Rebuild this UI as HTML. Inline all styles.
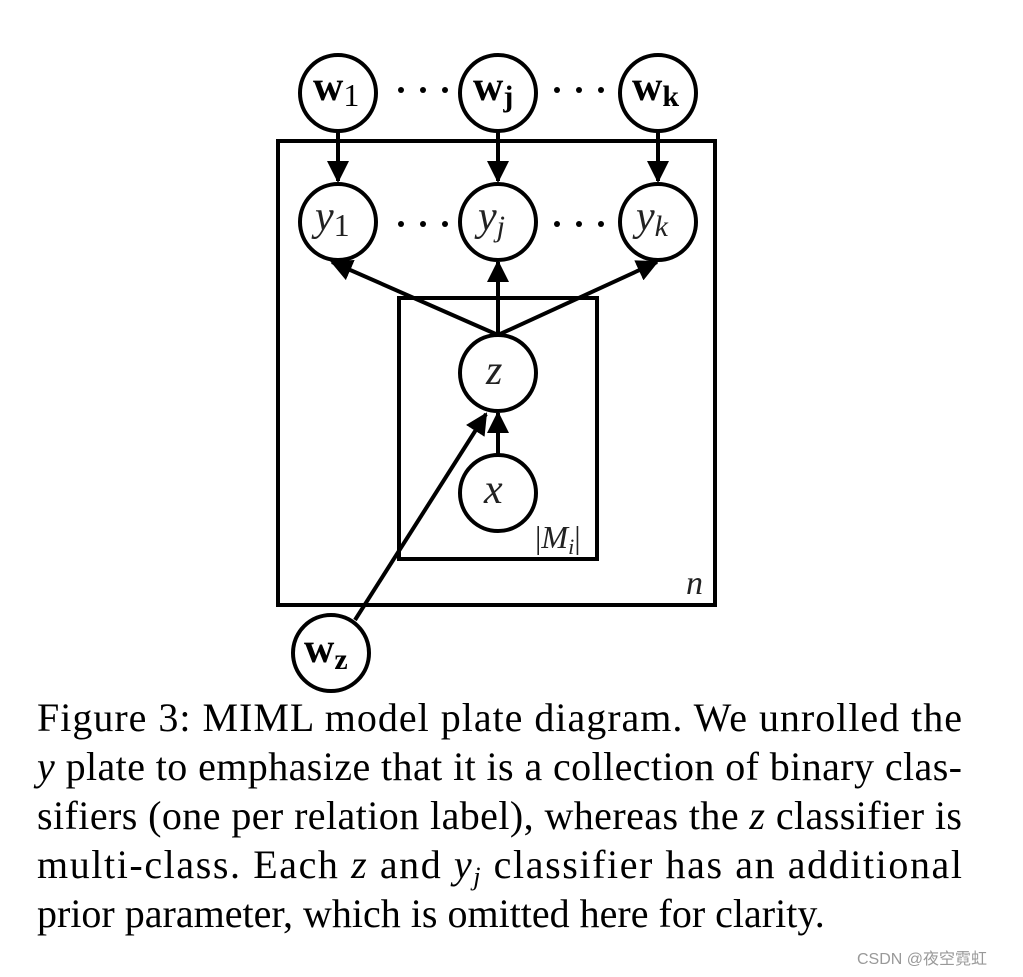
<!DOCTYPE html>
<html><head><meta charset="utf-8"><style>
html,body{margin:0;padding:0;background:#fff;width:1023px;height:977px;overflow:hidden}
svg{display:block}
.m{font-family:"Liberation Serif",serif;font-style:italic;fill:#222}
.b{font-family:"Liberation Serif",serif;font-weight:bold;fill:#000}
.c{font-family:"Liberation Serif",serif;font-size:40px;fill:#000}
</style></head><body>
<svg width="1023" height="977" viewBox="0 0 1023 977" xmlns="http://www.w3.org/2000/svg">
<defs>
<marker id="ah" markerWidth="22" markerHeight="22" refX="20" refY="11" orient="auto" markerUnits="userSpaceOnUse" viewBox="0 0 22 22"><path d="M0,0 L22,11 L0,22 z" fill="#000"/></marker></defs>
<g fill="none" stroke="#000" stroke-width="4">
<rect x="278" y="141" width="437" height="464"/>
<rect x="399" y="298" width="198" height="261"/>
</g>
<g stroke="#000" stroke-width="4" fill="none">
<line x1="338" y1="131" x2="338" y2="181" marker-end="url(#ah)"/>
<line x1="498" y1="131" x2="498" y2="181" marker-end="url(#ah)"/>
<line x1="658" y1="131" x2="658" y2="181" marker-end="url(#ah)"/>
<line x1="498" y1="335" x2="498" y2="262" marker-end="url(#ah)"/>
<line x1="498" y1="335" x2="332" y2="262" marker-end="url(#ah)"/>
<line x1="498" y1="335" x2="657" y2="262" marker-end="url(#ah)"/>
<line x1="498" y1="455" x2="498" y2="413" marker-end="url(#ah)"/>
<line x1="355" y1="620" x2="486" y2="414" marker-end="url(#ah)"/>
</g>
<g fill="#fff" stroke="#000" stroke-width="4">
<circle cx="338" cy="93" r="38"/><circle cx="498" cy="93" r="38"/><circle cx="658" cy="93" r="38"/>
<circle cx="338" cy="222" r="38"/><circle cx="498" cy="222" r="38"/><circle cx="658" cy="222" r="38"/>
<circle cx="498" cy="373" r="38"/><circle cx="498" cy="493" r="38"/><circle cx="331" cy="653" r="38"/>
</g>
<g class="b" font-size="42">
<text x="313" y="100">w<tspan font-weight="normal" font-size="32" dy="6">1</tspan></text>
<text x="473" y="100">w<tspan font-size="30" dy="6">j</tspan></text>
<text x="632" y="100">w<tspan font-size="30" dy="6">k</tspan></text>
<text x="304" y="662">w<tspan font-size="30" dy="7">z</tspan></text>
</g>
<g fill="#000">
<circle cx="401" cy="90" r="3"/><circle cx="423" cy="90" r="3"/><circle cx="445" cy="90" r="3"/>
<circle cx="557" cy="90" r="3"/><circle cx="579" cy="90" r="3"/><circle cx="601" cy="90" r="3"/>
<circle cx="401" cy="224" r="3"/><circle cx="423" cy="224" r="3"/><circle cx="445" cy="224" r="3"/>
<circle cx="557" cy="224" r="3"/><circle cx="579" cy="224" r="3"/><circle cx="601" cy="224" r="3"/>
</g>
<g class="m" font-size="42">
<text x="315" y="230">y<tspan font-style="normal" font-size="32" dy="6">1</tspan></text>
<text x="478" y="230">y<tspan font-size="30" dy="6">j</tspan></text>
<text x="636" y="230">y<tspan font-size="30" dy="6">k</tspan></text>
<text x="486" y="384">z</text>
<text x="484" y="503">x</text>
<text x="686" y="594" font-size="34">n</text>
<text x="535" y="548" font-size="32"><tspan font-style="normal">|</tspan>M<tspan font-size="22" dy="6">i</tspan><tspan font-style="normal" dy="-6">|</tspan></text>
</g>
<g class="c">
<text x="37" y="731" textLength="925" lengthAdjust="spacing">Figure 3:  MIML model plate diagram.  We unrolled the</text>
<text x="37" y="780" textLength="925" lengthAdjust="spacing"><tspan font-style="italic">y</tspan> plate to emphasize that it is a collection of binary clas-</text>
<text x="37" y="829" textLength="925" lengthAdjust="spacing">sifiers (one per relation label), whereas the <tspan font-style="italic">z</tspan> classifier is</text>
<text x="37" y="878" textLength="925" lengthAdjust="spacing">multi-class.  Each <tspan font-style="italic">z</tspan> and <tspan font-style="italic">y</tspan><tspan font-style="italic" font-size="26" dy="7">j</tspan><tspan dy="-7"> classifier has an additional</tspan></text>
<text x="37" y="927">prior parameter, which is omitted here for clarity.</text>
</g>
<text x="857" y="964" font-family="Liberation Sans,'Noto Sans CJK SC',sans-serif" font-size="16" fill="#999">CSDN @夜空霓虹</text>
</svg>
</body></html>
